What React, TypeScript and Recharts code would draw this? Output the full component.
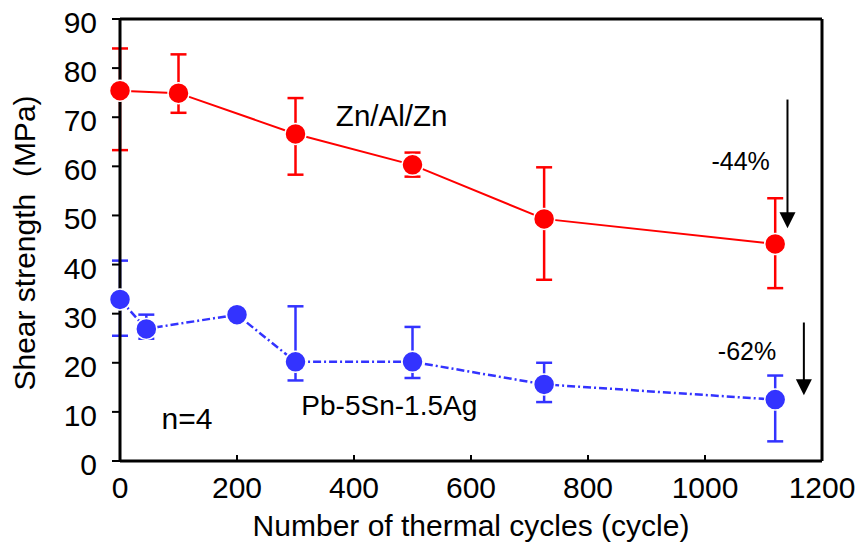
import React from 'react';
import {
  LineChart, Line, XAxis, YAxis, ErrorBar, ReferenceLine, ReferenceDot, Label,
} from 'recharts';

// Zn/Al/Zn series
const znCycles = [0, 100, 300, 500, 725, 1120];
const znStrength = [75.4, 74.9, 66.6, 60.3, 49.3, 44.2];
const znErrLow = [12.1, 4.0, 8.3, 2.4, 12.4, 9.0];
const znErrHigh = [8.6, 7.9, 7.3, 2.5, 10.5, 9.3];

// Pb-5Sn-1.5Ag series
const pbCycles = [0, 45, 200, 300, 500, 725, 1120];
const pbStrength = [32.9, 26.9, 29.8, 20.2, 20.2, 15.6, 12.5];
const pbErrLow = [7.4, 2.0, 0, 3.8, 3.3, 3.6, 8.5];
const pbErrHigh = [7.9, 2.9, 0, 11.3, 7.1, 4.4, 4.9];

const xTicks = [0, 200, 400, 600, 800, 1000, 1200];
const yTicks = [0, 10, 20, 30, 40, 50, 60, 70, 80, 90];

// annotation texts: [label, x (cycles), y (MPa), fontSize]
const notes: [string, number, number, number][] = [
  ['Zn/Al/Zn', 369, 68.2, 29.5],
  ['Pb-5Sn-1.5Ag', 310, 9.4, 28],
  ['n=4', 71, 6.45, 30],
  ['-44%', 1011, 59.3, 25],
  ['-62%', 1022, 20.6, 25],
];
// arrows: [x, yFrom, yTo]
const arrows: [number, number, number][] = [
  [1141, 73.6, 47.4],
  [1169, 28.2, 13.4],
];

const FONT = '"Liberation Sans", Arial, sans-serif';
const txt = (fs: number): React.CSSProperties => ({ fontFamily: FONT, fontSize: fs, fill: '#000' });

const znData = znCycles.map((c, i) => ({ c, v: znStrength[i], e: [znErrLow[i], znErrHigh[i]] }));
const pbData = pbCycles.map((c, i) => ({ c, v: pbStrength[i], e: [pbErrLow[i], pbErrHigh[i]] }));

const YTick = (p: any) => (
  <text x={p.x} y={p.y} dy={14} textAnchor="end" style={txt(30)}>
    {p.payload.value}
  </text>
);
const XTick = (p: any) => (
  <text x={p.x} y={p.y} dy={37} textAnchor="middle" style={txt(30)}>
    {p.payload.value}
  </text>
);

const Arrow = (p: any) => {
  const { x1, y1, x2, y2 } = p;
  const top = Math.min(y1, y2);
  const tip = Math.max(y1, y2);
  return (
    <g>
      <line x1={x1} y1={top} x2={x2} y2={tip - 12} stroke="#000" strokeWidth={2} />
      <polygon points={`${x2 - 8},${tip - 16} ${x2 + 8},${tip - 16} ${x2},${tip}`} fill="#000" />
    </g>
  );
};

export default function App() {
  return (
    <div style={{ position: 'absolute', left: 0, top: 0 }}>
      <LineChart width={856} height={547} margin={{ top: 19, right: 34, bottom: 0, left: 0 }}>
        <XAxis
          dataKey="c"
          type="number"
          domain={[0, 1200]}
          ticks={xTicks}
          allowDuplicatedCategory={false}
          height={86}
          axisLine={{ stroke: '#000', strokeWidth: 3 }}
          tickLine={{ stroke: '#000', strokeWidth: 2 }}
          tickSize={-6}
          tickMargin={6}
          tick={<XTick />}
          interval={0}
        >
          <Label
            content={() => (
              <text x={471} y={536} textAnchor="middle" style={txt(30)}>
                Number of thermal cycles (cycle)
              </text>
            )}
          />
        </XAxis>
        <YAxis
          type="number"
          domain={[0, 90]}
          ticks={yTicks}
          width={120}
          axisLine={{ stroke: '#000', strokeWidth: 3 }}
          tickLine={{ stroke: '#000', strokeWidth: 2 }}
          tickSize={8}
          tickMargin={15}
          tick={<YTick />}
          interval={0}
        >
          <Label
            content={() => (
              <text
                x={35}
                y={243}
                transform="rotate(-90, 35, 243)"
                textAnchor="middle"
                style={{ ...txt(30), whiteSpace: 'pre' }}
              >
                {'Shear strength\u00a0\u00a0(MPa)'}
              </text>
            )}
          />
        </YAxis>
        <ReferenceLine y={90} stroke="#000" strokeWidth={3} />
        <ReferenceLine x={1200} stroke="#000" strokeWidth={3} />
        <Line
          data={znData}
          dataKey="v"
          type="linear"
          stroke="#ff0000"
          strokeWidth={2}
          dot={{ r: 10.5, fill: '#ff0000', stroke: '#fff', strokeWidth: 1.5 }}
          isAnimationActive={false}
        >
          <ErrorBar dataKey="e" direction="y" width={8} stroke="#ff0000" strokeWidth={2.5} />
        </Line>
        <Line
          data={pbData}
          dataKey="v"
          type="linear"
          stroke="#3333ff"
          strokeWidth={2.5}
          strokeDasharray="8 3 2 3"
          dot={{ r: 10.5, fill: '#3333ff', stroke: '#fff', strokeWidth: 1.5, strokeDasharray: '0' }}
          isAnimationActive={false}
        >
          <ErrorBar dataKey="e" direction="y" width={8} stroke="#3333ff" strokeWidth={2.5} />
        </Line>
        {arrows.map(([x, y1, y2], i) => (
          <ReferenceLine
            key={'a' + i}
            segment={[{ x, y: y1 }, { x, y: y2 }]}
            shape={<Arrow />}
            ifOverflow="visible"
          />
        ))}
        {notes.map(([t, x, y, fs], i) => (
          <ReferenceDot
            key={'n' + i}
            x={x}
            y={y}
            r={0}
            ifOverflow="visible"
            shape={(p: any) => (
              <text x={p.cx} y={p.cy} style={txt(fs)}>
                {t}
              </text>
            )}
          />
        ))}
      </LineChart>
    </div>
  );
}
